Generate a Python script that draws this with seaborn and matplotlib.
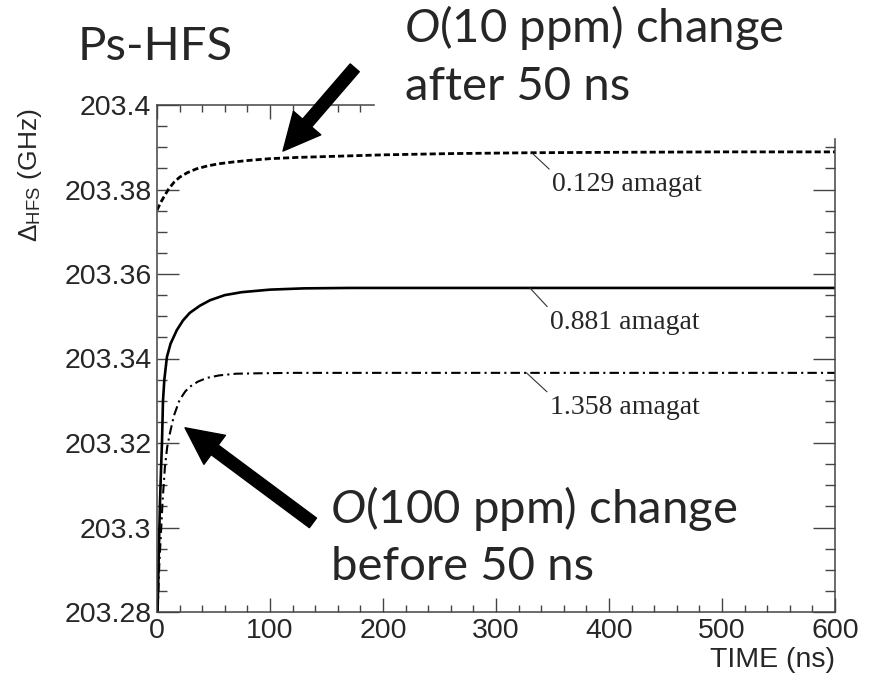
import numpy as np
import pandas as pd
import matplotlib
matplotlib.use("Agg")
import matplotlib.pyplot as plt
import seaborn as sns
from matplotlib.ticker import MultipleLocator, FuncFormatter
from matplotlib.patches import Rectangle

# values
time_129 = [0, 3, 6, 10, 15, 20, 27, 35, 45, 55, 67, 82, 100, 125, 150, 200, 260, 330, 400, 500, 600]
delta_129 = [203.3751, 203.3768, 203.3782, 203.3800, 203.3817, 203.3829, 203.3840, 203.3849,
             203.3856, 203.3861, 203.3865, 203.3869, 203.3873, 203.3876, 203.3878, 203.3882,
             203.3885, 203.3887, 203.3888, 203.3889, 203.3889]

time_881 = [0.5, 1.5, 2.7, 3.6, 4.4, 5.3, 6.5, 8.8, 12, 17.5, 23, 29, 38, 47, 60, 75, 100,
            130, 170, 250, 400, 600]
delta_881 = [203.2800, 203.2930, 203.3065, 203.3140, 203.3200, 203.3300, 203.3350, 203.3404,
             203.3435, 203.3467, 203.3490, 203.3508, 203.3525, 203.3538, 203.3550, 203.3557,
             203.3563, 203.3566, 203.3567, 203.3567, 203.3567, 203.3567]

time_1358 = [0.5, 1, 2, 3.5, 5, 7, 9, 11.5, 15, 20, 25, 29, 36, 44, 55, 70, 90, 120, 200, 400, 600]
delta_1358 = [203.2800, 203.2830, 203.2910, 203.2987, 203.3065, 203.3143, 203.3190, 203.3224,
              203.3265, 203.3302, 203.3322, 203.3333, 203.3345, 203.3354, 203.3360, 203.3364,
              203.3365, 203.3366, 203.3366, 203.3366, 203.3366]

labels = ["0.129 amagat", "0.881 amagat", "1.358 amagat"]

sns.set_style("ticks")
plt.rcParams["font.family"] = ["Liberation Sans", "DejaVu Sans"]
plt.rcParams["mathtext.fontset"] = "custom"
plt.rcParams["mathtext.rm"] = "Liberation Sans"
plt.rcParams["mathtext.it"] = "Lato:italic"

fig = plt.figure(figsize=(8.7, 6.76), dpi=100)
ax = fig.add_axes([157 / 870, 64 / 676, 678 / 870, 507 / 676])

df129 = pd.DataFrame({"t": time_129, "d": delta_129})
df881 = pd.DataFrame({"t": time_881, "d": delta_881})
df1358 = pd.DataFrame({"t": time_1358, "d": delta_1358})

sns.lineplot(data=df129, x="t", y="d", ax=ax, color="black", lw=2.0, estimator=None)
ax.lines[-1].set_dashes((2.2, 1.1))
sns.lineplot(data=df881, x="t", y="d", ax=ax, color="black", lw=1.9, estimator=None)
sns.lineplot(data=df1358, x="t", y="d", ax=ax, color="black", lw=1.5, estimator=None)
ax.lines[-1].set_dashes((4.5, 2, 1, 2))

ax.set_xlim(0, 600)
ax.set_ylim(203.28, 203.4)
ax.xaxis.set_major_locator(MultipleLocator(100))
ax.xaxis.set_minor_locator(MultipleLocator(20))
ax.yaxis.set_major_locator(MultipleLocator(0.02))
ax.yaxis.set_minor_locator(MultipleLocator(0.005))
ax.yaxis.set_major_formatter(FuncFormatter(lambda v, _: f"{v:g}"))

frame = "#444444"
for s in ax.spines.values():
    s.set_color(frame)
    s.set_linewidth(1.1)
ax.tick_params(which="both", direction="in", top=True, right=True, color=frame,
               width=1.0, labelsize=20.5, pad=4)
ax.tick_params(axis="x", which="major", length=10)
ax.tick_params(axis="x", which="minor", length=5)
ax.tick_params(axis="y", which="major", length=15.5)
ax.tick_params(axis="y", which="minor", length=7)

ax.set_xlabel("TIME (ns)", fontsize=20.5)
ax.xaxis.set_label_coords(1.0, -0.095)
ax.xaxis.label.set_ha("right")
ax.xaxis.label.set_va("center")
ax.set_ylabel("\u0394$_{\\mathrm{HFS}}$ (GHz)", fontsize=19)
ax.yaxis.set_label_coords(-0.187, 0.862)
ax.yaxis.label.set_va("center")

# curve labels with leader lines
leader = dict(arrowstyle="-", lw=0.8, color="#333333", shrinkA=0, shrinkB=0, relpos=(0, 1))
label_xy = [(332, 203.3886), (330, 203.3567), (327, 203.3366)]
label_txt = [(350, 203.3841), (348, 203.3515), (348, 203.3314)]
for lab, xy, xt in zip(labels, label_xy, label_txt):
    ax.annotate(lab, xy=xy, xytext=xt, ha="left", va="top", fontsize=20,
                family="Liberation Serif", arrowprops=leader)

# big arrows
big = dict(arrowstyle="simple,head_length=2.66,head_width=2.6,tail_width=0.86",
           color="black", mutation_scale=10, shrinkA=0, shrinkB=0)
ax.annotate("", xy=(111.5, 203.3891), xytext=(175, 203.4088), arrowprops=big,
            annotation_clip=False)
ax.annotate("", xy=(24.8, 203.3236), xytext=(138, 203.3011), arrowprops=big,
            annotation_clip=False)

# white box behind the upper note
fig.add_artist(Rectangle((375 / 870, 1 - 137 / 676), 495 / 870, 137 / 676,
                         transform=fig.transFigure, color="white", zorder=2))

note = dict(fontsize=34, family=["Lato", "DejaVu Sans"], va="baseline", ha="left", zorder=3)
fig.text(78 / 870, 1 - 60 / 676, "Ps-HFS", **note)
fig.text(404 / 870, 1 - 42 / 676, "$\\mathit{O}$(10 ppm) change", **note)
fig.text(405 / 870, 1 - 100 / 676, "after 50 ns", **note)
fig.text(330 / 870, 1 - 523 / 676, "$\\mathit{O}$(100 ppm) change", **note)
fig.text(331 / 870, 1 - 580 / 676, "before 50 ns", **note)

fig.savefig("out.png", dpi=100)
